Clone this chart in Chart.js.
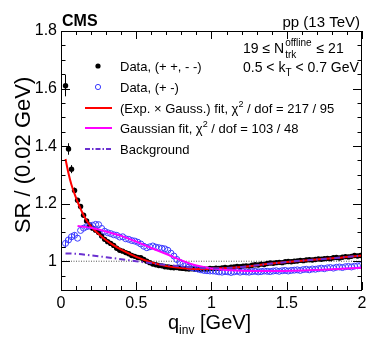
<!DOCTYPE html>
<html>
<head>
<meta charset="utf-8">
<script src="https://cdn.jsdelivr.net/npm/chart.js@4"></script>
<style>
  body { margin: 0; background: #fff; }
  canvas { display: block; }
</style>
</head>
<body>
<canvas id="sr" width="374" height="357"></canvas>
<script>
// bin centres, 0.02 GeV wide
const binWidth = 0.02;
const firstBin = 0.03;

// Data (+ +, - -)
const dataSame = [
  1.61, 1.39, 1.32, 1.246, 1.212, 1.19, 1.16, 1.14, 1.126, 1.115,
  1.108, 1.10, 1.088, 1.076, 1.068, 1.062, 1.055, 1.045, 1.038, 1.035,
  1.03, 1.026, 1.02, 1.017, 1.013, 1.012, 1.006, 1.0, 0.995, 0.99,
  0.988, 0.985, 0.984, 0.981, 0.98, 0.978, 0.977, 0.978, 0.976, 0.975,
  0.974, 0.973, 0.974, 0.972, 0.971, 0.972, 0.973, 0.972, 0.975, 0.974,
  0.976, 0.975, 0.977, 0.978, 0.977, 0.979, 0.98, 0.982, 0.981, 0.983,
  0.984, 0.983, 0.986, 0.988, 0.987, 0.99, 0.989, 0.992, 0.994, 0.993,
  0.995, 0.996, 0.995, 0.998, 0.999, 0.998, 1.0, 1.001, 1.003, 1.002,
  1.004, 1.005, 1.004, 1.006, 1.008, 1.007, 1.009, 1.01, 1.009, 1.012,
  1.013, 1.011, 1.014, 1.016, 1.015, 1.017, 1.02, 1.018, 1.02
];
const errSame = [0.037, 0.02, 0.014, 0.01, 0.008];

// Data (+ -)
const dataOpp = [
  1.062, 1.074, 1.085, 1.09, 1.08, 1.107, 1.115, 1.12, 1.122, 1.125,
  1.128, 1.127, 1.114, 1.104, 1.099, 1.096, 1.092, 1.09, 1.084, 1.085,
  1.078, 1.076, 1.072, 1.07, 1.066, 1.06, 1.052, 1.047, 1.05, 1.053,
  1.049, 1.047, 1.045, 1.043, 1.038, 1.028, 1.018, 1.006, 0.996, 0.99,
  0.985, 0.98, 0.978, 0.975, 0.973, 0.97, 0.968, 0.967, 0.966, 0.966,
  0.965, 0.963, 0.962, 0.964, 0.963, 0.961, 0.963, 0.965, 0.962, 0.964,
  0.963, 0.962, 0.964, 0.965, 0.963, 0.964, 0.966, 0.965, 0.964, 0.966,
  0.967, 0.965, 0.967, 0.968, 0.966, 0.968, 0.969, 0.97, 0.968, 0.971,
  0.972, 0.97, 0.973, 0.972, 0.974, 0.976, 0.974, 0.977, 0.978, 0.976,
  0.979, 0.98, 0.978, 0.981, 0.982, 0.98, 0.983, 0.984, 0.985
];
const errOpp = [0.016, 0.014, 0.012, 0.01];

// (Exp. x Gauss.) fit
const expFitQ = [0.03, 0.05, 0.07, 0.1, 0.15, 0.2, 0.25, 0.3, 0.35, 0.4, 0.5, 0.6, 0.7, 0.8, 0.9, 1.0, 1.2, 1.4, 1.6, 1.8, 2.0];
const expFitY = [1.355, 1.305, 1.265, 1.22, 1.16, 1.12, 1.095, 1.073, 1.055, 1.04, 1.015, 0.996, 0.983, 0.976, 0.973, 0.974, 0.98, 0.992, 1.002, 1.01, 1.02];

// Gaussian fit
const gausFitQ = [0.11, 0.2, 0.3, 0.4, 0.5, 0.6, 0.7, 0.8, 0.9, 1.0, 1.2, 1.4, 1.6, 1.8, 2.0];
const gausFitY = [1.122, 1.116, 1.103, 1.088, 1.068, 1.046, 1.025, 1.003, 0.985, 0.975, 0.967, 0.966, 0.968, 0.972, 0.977];

// Background
const bkgQ = [0.03, 0.1, 0.2, 0.3, 0.4, 0.5, 0.6, 0.7, 0.8, 0.9, 1.0, 1.2, 1.4, 1.6, 1.8, 2.0];
const bkgY = [1.027, 1.026, 1.02, 1.014, 1.007, 1.0, 0.993, 0.987, 0.982, 0.977, 0.975, 0.98, 0.992, 1.002, 1.01, 1.02];

const refLevel = 1;
const xRange = [0, 2];
const yRange = [0.9, 1.8];
const xTickVals = [0, 0.5, 1, 1.5, 2];
const yTickVals = [1, 1.2, 1.4, 1.6, 1.8];

const qBins = dataSame.map((_, i) => +(firstBin + i * binWidth).toFixed(2));
const toXY = (xs, ys) => ys.map((y, i) => ({ x: xs[i], y: y }));

const FONT = "'Liberation Sans', Arial, Helvetica, sans-serif";
const RED = '#ff0000', MAGENTA = '#ff00ff', PURPLE = '#6a2fd0', BLUE = '#3b3bff';

// draw a string made of pieces with sub/superscripts
function richText(ctx, x, y, parts) {
  let cx = x;
  parts.forEach(p => {
    ctx.font = (p.bold ? 'bold ' : '') + p.size + 'px ' + FONT;
    ctx.fillText(p.t, cx, y + (p.dy || 0));
    cx += ctx.measureText(p.t).width;
  });
  return cx;
}

const decor = {
  id: 'decor',
  beforeDatasetsDraw(chart) {
    const { ctx, scales: { x, y } } = chart;
    ctx.save();
    ctx.lineWidth = 1;
    const bars = (vals, errs, color) => {
      ctx.strokeStyle = color;
      errs.forEach((e, i) => {
        const px = x.getPixelForValue(qBins[i]);
        ctx.beginPath();
        ctx.moveTo(px, y.getPixelForValue(vals[i] - e));
        ctx.lineTo(px, y.getPixelForValue(vals[i] + e));
        ctx.stroke();
      });
    };
    bars(dataSame, errSame, '#000');
    bars(dataOpp, errOpp, BLUE);
    ctx.restore();
  },
  afterDraw(chart) {
    const { ctx, chartArea: a, scales: { x, y } } = chart;
    ctx.save();
    ctx.strokeStyle = '#000';
    ctx.lineWidth = 1;
    // frame
    ctx.strokeRect(a.left + 0.5, a.top + 0.5, a.right - a.left - 1, a.bottom - a.top);

    // ticks, pointing inward on all four sides
    ctx.beginPath();
    for (let v = 0; v <= 2.0001; v += 0.1) {
      const px = Math.round(x.getPixelForValue(v)) + 0.5;
      const major = Math.abs(v * 2 - Math.round(v * 2)) < 1e-6;
      const len = major ? 8 : 4;
      ctx.moveTo(px, a.bottom); ctx.lineTo(px, a.bottom - len);
      ctx.moveTo(px, a.top); ctx.lineTo(px, a.top + len);
    }
    for (let v = 0.9; v <= 1.8001; v += 0.05) {
      const py = Math.round(y.getPixelForValue(v)) + 0.5;
      const major = Math.abs(v * 5 - Math.round(v * 5)) < 1e-6;
      const len = major ? 9 : 4.5;
      ctx.moveTo(a.left, py); ctx.lineTo(a.left + len, py);
      ctx.moveTo(a.right, py); ctx.lineTo(a.right - len, py);
    }
    ctx.stroke();

    ctx.fillStyle = '#000';
    ctx.textBaseline = 'alphabetic';

    // header
    ctx.textAlign = 'left';
    richText(ctx, 62, 26, [{ t: 'CMS', size: 16, bold: true }]);
    ctx.textAlign = 'right';
    ctx.font = '15px ' + FONT;
    ctx.fillText('pp (13 TeV)', 360, 27);
    ctx.textAlign = 'left';

    // selection info
    let cx = richText(ctx, 243, 53, [{ t: '19 \u2264 N', size: 14 }]);
    const supEnd = richText(ctx, cx + 1, 46, [{ t: 'offline', size: 10 }]);
    const subEnd = richText(ctx, cx + 1, 58, [{ t: 'trk', size: 10 }]);
    cx = Math.max(supEnd, subEnd) + 1;
    richText(ctx, cx, 53, [{ t: ' \u2264 21', size: 14 }]);
    cx = richText(ctx, 243, 72, [{ t: '0.5 < k', size: 14 }]);
    cx = richText(ctx, cx, 76, [{ t: 'T', size: 10 }]);
    richText(ctx, cx, 72, [{ t: ' < 0.7 GeV', size: 14 }]);

    // legend
    const lx0 = 85, lx1 = 112, tx = 120;
    const rows = [66, 87, 108, 128, 149];
    const base = r => r + 5;
    ctx.fillStyle = '#000';
    ctx.beginPath(); ctx.arc(98, rows[0], 2.6, 0, Math.PI * 2); ctx.fill();
    ctx.strokeStyle = BLUE;
    ctx.beginPath(); ctx.arc(98, rows[1], 2.6, 0, Math.PI * 2); ctx.stroke();
    const seg = (r, color, dash) => {
      ctx.strokeStyle = color; ctx.lineWidth = 2; ctx.setLineDash(dash);
      ctx.beginPath(); ctx.moveTo(lx0, r); ctx.lineTo(lx1, r); ctx.stroke();
      ctx.setLineDash([]);
    };
    seg(rows[2], RED, []);
    seg(rows[3], MAGENTA, []);
    seg(rows[4], PURPLE, [5, 2, 1.5, 2]);

    ctx.fillStyle = '#000';
    richText(ctx, tx, base(rows[0]), [{ t: 'Data, (+ +, - -)', size: 13 }]);
    richText(ctx, tx, base(rows[1]), [{ t: 'Data, (+ -)', size: 13 }]);
    cx = richText(ctx, tx, base(rows[2]), [{ t: '(Exp. \u00d7 Gauss.) fit, \u03c7', size: 13 }]);
    cx = richText(ctx, cx, base(rows[2]) - 6, [{ t: '2', size: 9 }]);
    richText(ctx, cx, base(rows[2]), [{ t: ' / dof = 217 / 95', size: 13 }]);
    cx = richText(ctx, tx, base(rows[3]), [{ t: 'Gaussian fit, \u03c7', size: 13 }]);
    cx = richText(ctx, cx, base(rows[3]) - 6, [{ t: '2', size: 9 }]);
    richText(ctx, cx, base(rows[3]), [{ t: ' / dof = 103 / 48', size: 13 }]);
    richText(ctx, tx, base(rows[4]), [{ t: 'Background', size: 13 }]);

    // axis titles
    cx = richText(ctx, 168, 329, [{ t: 'q', size: 20 }]);
    cx = richText(ctx, cx, 334, [{ t: 'inv', size: 12 }]);
    richText(ctx, cx, 329, [{ t: ' [GeV]', size: 20 }]);

    ctx.translate(30, 155);
    ctx.rotate(-Math.PI / 2);
    ctx.textAlign = 'center';
    ctx.font = '22px ' + FONT;
    ctx.fillText('SR / (0.02 GeV)', 0, 0);
    ctx.restore();
  }
};

const curve = (label, xs, ys, color, dash, order) => ({
  label, data: toXY(xs, ys), showLine: true, borderColor: color, borderWidth: 2,
  borderDash: dash, pointRadius: 0, cubicInterpolationMode: 'monotone', order
});

new Chart(document.getElementById('sr').getContext('2d'), {
  type: 'scatter',
  data: {
    datasets: [
      curve('Background', bkgQ, bkgY, PURPLE, [6, 3, 1.5, 3], 0),
      curve('Gaussian fit', gausFitQ, gausFitY, MAGENTA, [], 1),
      curve('(Exp. x Gauss.) fit', expFitQ, expFitY, RED, [], 2),
      {
        label: 'Data, (+ -)', data: toXY(qBins, dataOpp), order: 3,
        pointRadius: 3, pointBorderWidth: 1, pointBorderColor: BLUE,
        pointBackgroundColor: 'rgba(0,0,0,0)', showLine: false
      },
      {
        label: 'Data, (+ +, - -)', data: toXY(qBins, dataSame), order: 4,
        pointRadius: 2.7, pointBorderWidth: 0, pointBackgroundColor: '#000', showLine: false
      },
      {
        label: 'ref', data: toXY(xRange, [refLevel, refLevel]), order: 5, showLine: true,
        borderColor: '#555', borderWidth: 1, borderDash: [1, 1.5], pointRadius: 0
      }
    ]
  },
  options: {
    responsive: false,
    animation: false,
    devicePixelRatio: 1,
    layout: { padding: { left: 0, top: 31, right: 12, bottom: 0 } },
    plugins: { legend: { display: false }, tooltip: { enabled: false } },
    scales: {
      x: {
        type: 'linear', min: xRange[0], max: xRange[1],
        grid: { display: false, drawTicks: false },
        border: { display: false },
        afterBuildTicks: s => { s.ticks = xTickVals.map(v => ({ value: v })); },
        afterFit: s => { s.height = 67; },
        ticks: { color: '#000', padding: 4, maxRotation: 0, font: { family: FONT, size: 16 },
                 callback: v => String(v) }
      },
      y: {
        type: 'linear', min: yRange[0], max: yRange[1],
        grid: { display: false, drawTicks: false },
        border: { display: false },
        afterBuildTicks: s => { s.ticks = yTickVals.map(v => ({ value: v })); },
        afterFit: s => { s.width = 61; },
        ticks: { color: '#000', padding: 4, font: { family: FONT, size: 16 },
                 callback: v => (v === 1 ? '1' : v.toFixed(1)) }
      }
    }
  },
  plugins: [decor]
});
</script>
</body>
</html>
